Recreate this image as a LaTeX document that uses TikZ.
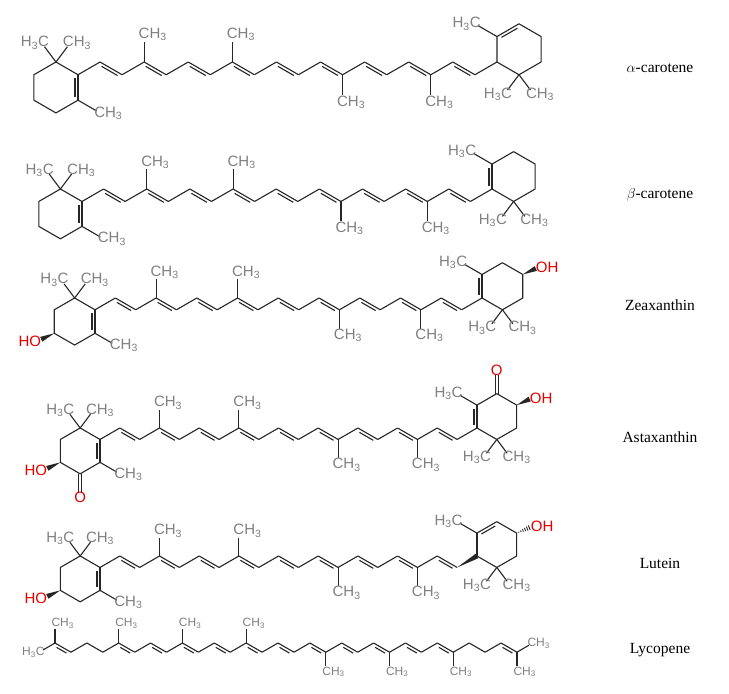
\documentclass[tikz,border=0pt]{standalone}
\usepackage{fontspec}
\setmainfont{Liberation Serif}
\newfontfamily\atomfont{Liberation Sans}
\usetikzlibrary{calc}
\tikzset{
 bond/.style={line width=1.1pt, color=black!85},
 atom/.style={font=\atomfont\fontsize{15}{15}\selectfont, text=black!50, inner sep=0pt},
 latom/.style={font=\atomfont\fontsize{12}{12}\selectfont, text=black!50, inner sep=0pt},
 oxy/.style={font=\atomfont\fontsize{15}{15}\selectfont, text=red!90!black, inner sep=0pt},
 mname/.style={font=\fontsize{15.5}{16}\selectfont, inner sep=0pt}
}
\newcommand\dbl[3][-90]{\draw[bond] (#2)--(#3);
 \coordinate (dA) at ($(#2)!3pt!#1:(#3)$);
 \draw[bond,shorten <=3.5pt,shorten >=3.5pt] (dA) -- ($(#3)+(dA)-(#2)$);}
\newcommand\codbl[2]{\draw[bond] ($(#1)!1.6pt!90:(#2)$) -- ($(#2)!1.6pt!-90:(#1)$);
 \draw[bond] ($(#1)!1.6pt!-90:(#2)$) -- ($(#2)!1.6pt!90:(#1)$);}
\newcommand\wdg[2]{\fill[black!85] (#1) -- ($(#2)!2.6pt!90:(#1)$) -- ($(#2)!2.6pt!-90:(#1)$) -- cycle;}
\newcommand\hashw[2]{\foreach \t in {0.15,0.3,0.45,0.6,0.75,0.9}{\pgfmathsetmacro\hw{2.8*\t}
 \draw[line width=0.9pt,black!85] ($(#1)!\t!(#2)!\hw pt!90:(#2)$) -- ($(#1)!\t!(#2)!\hw pt!-90:(#2)$);}}
\newcommand\carchain[4]{%
 \pgfmathsetmacro\cdy{#3*0.57735}\pgfmathsetmacro\cL{2*\cdy}\pgfmathsetmacro\cdx{#3}
 \foreach \i in {0,...,19}{\pgfmathtruncatemacro\pp{mod(\i,2)}\pgfmathsetmacro\yy{#4+(1-\pp)*\cdy}
  \coordinate (#1-\i) at ({#2+#3*\i},\yy);}
 \foreach \i in {0,...,17}{\pgfmathtruncatemacro\j{\i+1}\pgfmathtruncatemacro\pp{mod(\i,2)}
  \ifnum\pp=1 \dbl{#1-\i}{#1-\j}\else\draw[bond] (#1-\i)--(#1-\j);\fi}
 \foreach \k in {3,7}{\draw[bond] (#1-\k) -- ++(0,{-0.8*\cL}) node[atom,anchor=south west,xshift=-6pt]{CH\textsubscript{3}};}
 \foreach \k in {12,16}{\draw[bond] (#1-\k) -- ++(0,{0.8*\cL}) node[atom,anchor=north west,xshift=-6pt]{CH\textsubscript{3}};}
 \coordinate (#1-L1) at ($(#1-0)+(0,\cL)$);
 \coordinate (#1-L2) at ($(#1-0)+(-\cdx,\cL+\cdy)$);
 \coordinate (#1-L3) at ($(#1-0)+(-2*\cdx,\cL)$);
 \coordinate (#1-L4) at ($(#1-0)+(-2*\cdx,0)$);
 \coordinate (#1-L5) at ($(#1-0)+(-\cdx,-\cdy)$);
 \dbl{#1-0}{#1-L1}
 \draw[bond] (#1-L1)--(#1-L2)--(#1-L3)--(#1-L4)--(#1-L5)--(#1-0);
 \draw[bond] (#1-L5) -- ++({-0.45*\cL},{-0.6*\cL}) node[atom,anchor=south east,xshift=5pt,yshift=-3pt]{H\textsubscript{3}C};
 \draw[bond] (#1-L5) -- ++({0.45*\cL},{-0.6*\cL}) node[atom,anchor=south west,xshift=-5pt,yshift=-3pt]{CH\textsubscript{3}};
 \draw[bond] (#1-L1) -- ++({0.85*\cdx},{0.85*\cdy}) node[atom,anchor=north west,xshift=-3pt,yshift=5pt]{CH\textsubscript{3}};
 \coordinate (#1-R1) at ($(#1-19)+(0,-\cL)$);
 \coordinate (#1-R2) at ($(#1-19)+(\cdx,-\cL-\cdy)$);
 \coordinate (#1-R3) at ($(#1-19)+(2*\cdx,-\cL)$);
 \coordinate (#1-R4) at ($(#1-19)+(2*\cdx,0)$);
 \coordinate (#1-R5) at ($(#1-19)+(\cdx,\cdy)$);
 \draw[bond] (#1-R2)--(#1-R3)--(#1-R4)--(#1-R5)--(#1-19);
 \draw[bond] (#1-R1) -- ++({-0.85*\cdx},{-0.85*\cdy}) node[atom,anchor=south east,xshift=3pt,yshift=-5pt]{H\textsubscript{3}C};
 \draw[bond] (#1-R5) -- ++({-0.45*\cL},{0.6*\cL}) node[atom,anchor=north east,xshift=5pt,yshift=3pt]{H\textsubscript{3}C};
 \draw[bond] (#1-R5) -- ++({0.45*\cL},{0.6*\cL}) node[atom,anchor=north west,xshift=-5pt,yshift=3pt]{CH\textsubscript{3}};
}
\begin{document}
\begin{tikzpicture}[x=1pt,y=-1pt]
\useasboundingbox (0,0) rectangle (729,694);
\fill[white] (0,0) rectangle (729,694);
% alpha-carotene
\carchain{a}{78}{22.05}{62}
\draw[bond] (a-18)--(a-19)--(a-R1);
\dbl{a-R1}{a-R2}
\node[mname] at (660,68) {$\alpha$-carotene};
% beta-carotene
\carchain{b}{82}{21.58}{189}
\draw[bond] (b-18)--(b-19);
\dbl[90]{b-19}{b-R1}
\draw[bond] (b-R1)--(b-R2);
\node[mname] at (660,195) {$\beta$-carotene};
% zeaxanthin
\carchain{z}{95}{20.37}{298}
\draw[bond] (z-18)--(z-19);
\dbl[90]{z-19}{z-R1}
\draw[bond] (z-R1)--(z-R2);
\coordinate (zw1) at ($(z-L3)+(-13,6)$);
\wdg{z-L3}{zw1}
\node[oxy,anchor=east] (zho) at ($(zw1)+(0,2)$) {HO};
\coordinate (zw2) at ($(z-R3)+(13,-6)$);
\wdg{z-R3}{zw2}
\node[oxy,anchor=west] (zoh) at ($(zw2)+(0,-1)$) {OH};
\node[mname] at (660,305) {Zeaxanthin};
% astaxanthin
\carchain{s}{100}{19.84}{428}
\draw[bond] (s-18)--(s-19);
\dbl[90]{s-19}{s-R1}
\draw[bond] (s-R1)--(s-R2);
\coordinate (so1) at ($(s-L2)+(0,19)$);
\codbl{s-L2}{so1}
\node[oxy,anchor=north] (sO1) at ($(so1)+(0,-1)$) {O};
\coordinate (so2) at ($(s-R2)+(0,-19)$);
\codbl{s-R2}{so2}
\node[oxy,anchor=south] (sO2) at ($(so2)+(0,1)$) {O};
\coordinate (sw1) at ($(s-L3)+(-13,6)$);
\wdg{s-L3}{sw1}
\node[oxy,anchor=east] (sho) at ($(sw1)+(0,2)$) {HO};
\coordinate (sw2) at ($(s-R3)+(13,-6)$);
\wdg{s-R3}{sw2}
\node[oxy,anchor=west] (soh) at ($(sw2)+(0,-1)$) {OH};
\node[mname] at (660,437) {Astaxanthin};
% lutein
\carchain{u}{100}{19.84}{556}
\wdg{u-18}{u-19}
\draw[bond] (u-19)--(u-R1);
\dbl{u-R1}{u-R2}
\coordinate (uw1) at ($(u-L3)+(-13,6)$);
\wdg{u-L3}{uw1}
\node[oxy,anchor=east] (uho) at ($(uw1)+(0,2)$) {HO};
\coordinate (uw2) at ($(u-R3)+(14,-6)$);
\hashw{u-R3}{uw2}
\node[oxy,anchor=west] (uoh) at ($(uw2)+(0,-1)$) {OH};
\node[mname] at (660,563) {Lutein};
% lycopene
\foreach \j in {0,...,29}{\pgfmathtruncatemacro\pp{mod(\j,2)}\pgfmathsetmacro\yy{643+9.2*\pp}
 \coordinate (l-\j) at ({55+15.93*\j},\yy);}
\foreach \j in {0,...,28}{\pgfmathtruncatemacro\k{\j+1}\pgfmathtruncatemacro\pp{mod(\j,2)}
 \pgfmathtruncatemacro\dd{(\pp==0)&&(\j!=2)&&(\j!=26)}
 \ifnum\dd=1 \dbl{l-\j}{l-\k}\else\draw[bond] (l-\j)--(l-\k);\fi}
\foreach \k in {4,8,12}{\draw[bond] (l-\k) -- ++(0,-14) node[latom,anchor=south west,xshift=-4pt]{CH\textsubscript{3}};}
\foreach \k in {17,21,25}{\draw[bond] (l-\k) -- ++(0,14) node[latom,anchor=north west,xshift=-4pt]{CH\textsubscript{3}};}
\draw[bond] (l-0) -- ++(0,-14) node[latom,anchor=south west,xshift=-4pt]{CH\textsubscript{3}};
\draw[bond] (l-0) -- ++(-12,7) node[latom,anchor=east,xshift=2pt,yshift=-2pt]{H\textsubscript{3}C};
\draw[bond] (l-29) -- ++(12,-7) node[latom,anchor=west,xshift=-2pt,yshift=2pt]{CH\textsubscript{3}};
\draw[bond] (l-29) -- ++(0,14) node[latom,anchor=north west,xshift=-4pt]{CH\textsubscript{3}};
\node[mname] at (660,650) {Lycopene};
\end{tikzpicture}
\end{document}
